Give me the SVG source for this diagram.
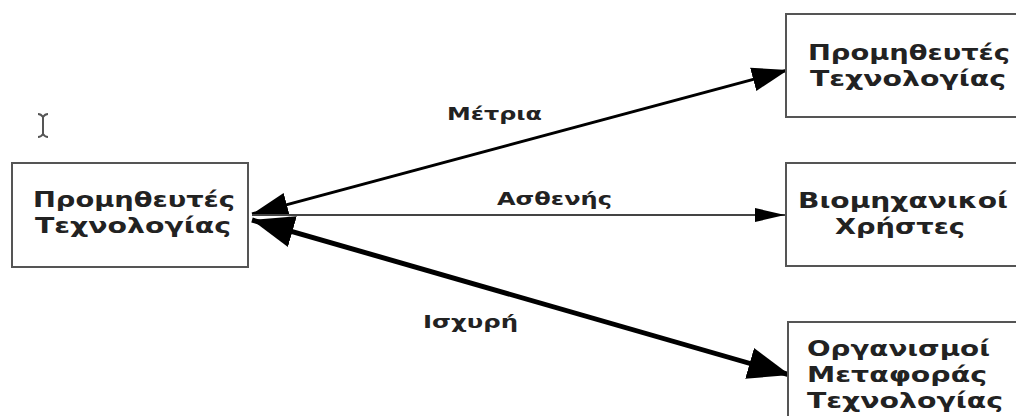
<svg xmlns="http://www.w3.org/2000/svg" width="1016" height="416" viewBox="0 0 1016 416">
<style>
.box{fill:#fff;stroke:#555;stroke-width:2}
.t{font-family:"DejaVu Sans",sans-serif;font-weight:bold;font-size:21px;fill:#222}
.lb{font-family:"DejaVu Sans",sans-serif;font-weight:bold;font-size:17px;fill:#222}
</style>
<defs>
<marker id="hBig" markerUnits="userSpaceOnUse" markerWidth="44" markerHeight="36" refX="42" refY="18" orient="auto-start-reverse" viewBox="0 0 44 36">
<path d="M0,2 L42,18 L0,34 Z" fill="#000"/>
</marker>
<marker id="hMed" markerUnits="userSpaceOnUse" markerWidth="38" markerHeight="26" refX="36" refY="13" orient="auto-start-reverse" viewBox="0 0 38 26">
<path d="M0,1 L36,13 L0,25 Z" fill="#000"/>
</marker>
<marker id="hSm" markerUnits="userSpaceOnUse" markerWidth="32" markerHeight="16" refX="30" refY="8" orient="auto" viewBox="0 0 32 16">
<path d="M0,1 L30,8 L0,15 Z" fill="#000"/>
</marker>
</defs>
<rect width="1016" height="416" fill="#fff"/>
<g id="cursor" fill="none" stroke="#555" stroke-width="2">
<path d="M43,116 L43,135 M38,114 Q41,114 43,117 Q45,114 48,114 M38,137 Q41,137 43,134 Q45,137 48,137"/>
</g>
<g id="connectors">
<line x1="252" y1="214" x2="788" y2="70" stroke="#000" stroke-width="3" marker-start="url(#hMed)" marker-end="url(#hMed)"/>
<line x1="252" y1="215" x2="785" y2="215" stroke="#444" stroke-width="2" marker-end="url(#hSm)"/>
<line x1="252" y1="220" x2="790" y2="375" stroke="#000" stroke-width="5" marker-start="url(#hBig)" marker-end="url(#hBig)"/>
<text class="lb" x="447" y="120" textLength="95" lengthAdjust="spacingAndGlyphs">Μέτρια</text>
<text class="lb" x="497" y="205" textLength="115" lengthAdjust="spacingAndGlyphs">Ασθενής</text>
<text class="lb" x="423" y="328" textLength="95" lengthAdjust="spacingAndGlyphs">Ισχυρή</text>
</g>
<g id="n-source">
<rect class="box" x="12" y="163" width="236" height="104"/>
<text class="t" x="33" y="207" textLength="202" lengthAdjust="spacingAndGlyphs">Προμηθευτές</text>
<text class="t" x="35" y="233" textLength="196" lengthAdjust="spacingAndGlyphs">Τεχνολογίας</text>
</g>
<g id="n-suppliers">
<rect class="box" x="786" y="14" width="240" height="103"/>
<text class="t" x="808" y="60" textLength="202" lengthAdjust="spacingAndGlyphs">Προμηθευτές</text>
<text class="t" x="810" y="86" textLength="196" lengthAdjust="spacingAndGlyphs">Τεχνολογίας</text>
</g>
<g id="n-users">
<rect class="box" x="786" y="163" width="240" height="103"/>
<text class="t" x="798" y="208" textLength="210" lengthAdjust="spacingAndGlyphs">Βιομηχανικοί</text>
<text class="t" x="835" y="234" textLength="130" lengthAdjust="spacingAndGlyphs">Χρήστες</text>
</g>
<g id="n-transfer">
<rect class="box" x="788" y="322" width="240" height="110"/>
<text class="t" x="807" y="356" textLength="183" lengthAdjust="spacingAndGlyphs">Οργανισμοί</text>
<text class="t" x="807" y="382" textLength="180" lengthAdjust="spacingAndGlyphs">Μεταφοράς</text>
<text class="t" x="807" y="408" textLength="196" lengthAdjust="spacingAndGlyphs">Τεχνολογίας</text>
</g>
</svg>
